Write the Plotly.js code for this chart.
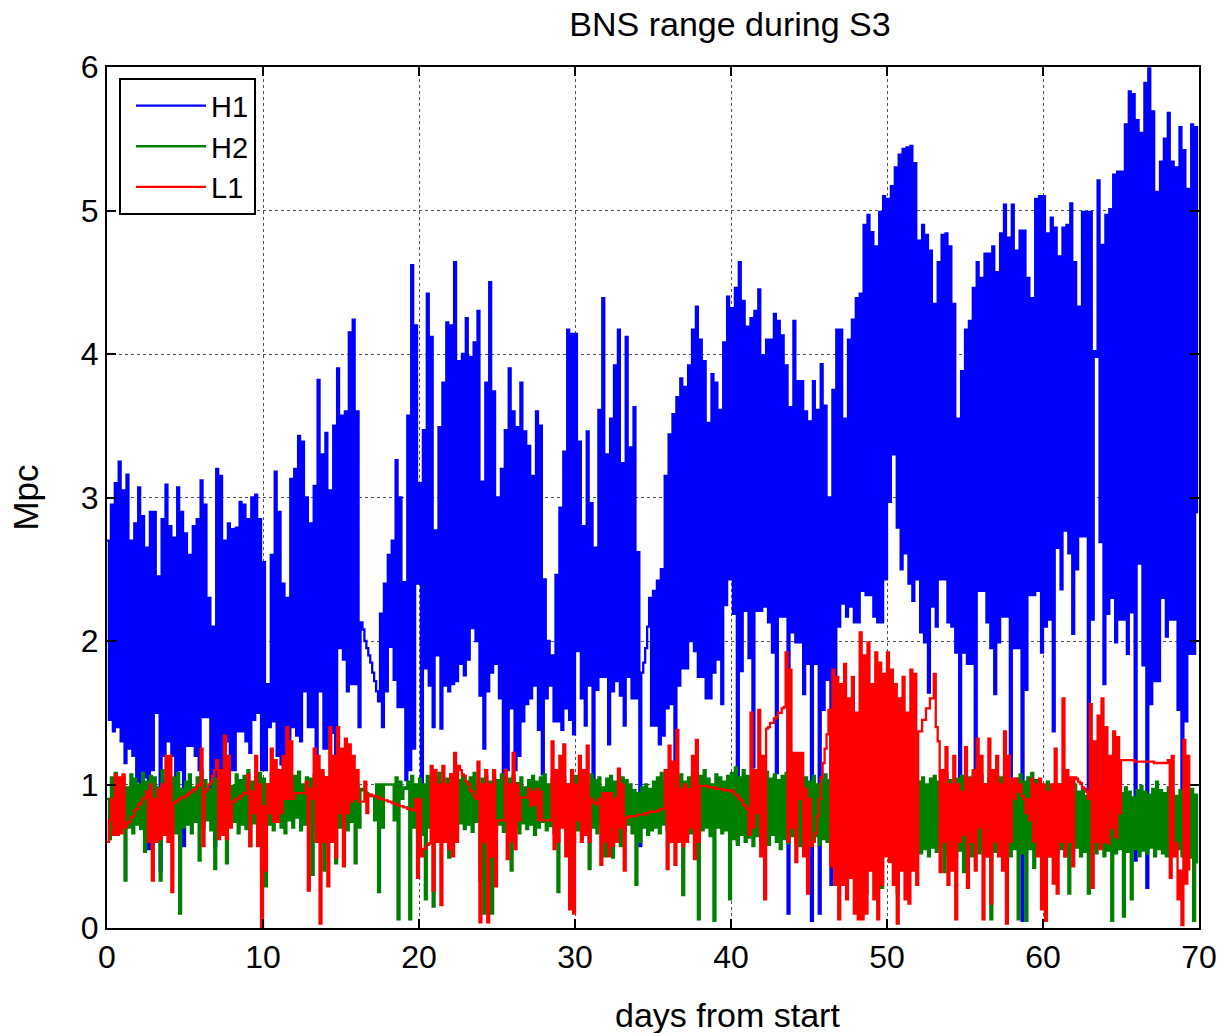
<!DOCTYPE html>
<html><head><meta charset="utf-8">
<script src="https://cdn.plot.ly/plotly-3.0.1.min.js"></script>
<style>html,body{margin:0;padding:0;background:#fff}#chart{width:1223px;height:1033px}</style>
</head><body><div id="chart"></div>
<script>
// Samples every 0.25 day: an upper value at the sample, a lower value half a step later
const SAMPLE_STEP_DAYS = 0.25;

const H1_hi = [
2.7,2.95,3.1,3.25,3.05,3.16,2.7,2.82,3.07,2.87,
2.65,2.9,2.9,2.45,2.85,3.09,2.8,2.72,3.07,2.9,
2.75,2.6,2.8,2.85,3.12,2.95,2.3,2.1,3.2,3.15,
2.7,2.82,2.78,2.79,2.97,2.95,2.85,3.0,3.02,2.85,
2.55,1.7,2.6,3.18,2.9,2.4,2.3,3.13,3.2,3.43,
3.39,3.0,2.82,3.08,3.82,3.3,3.45,3.05,3.5,3.9,
3.57,3.6,4.15,4.24,3.6,2.13,2.0,1.9,1.78,1.65,
2.19,2.4,2.6,2.7,3.26,3.0,2.41,3.57,4.62,4.2,
3.1,3.47,4.42,4.12,2.77,3.49,3.8,4.22,4.2,4.64,
3.95,4.0,4.25,3.98,4.08,4.3,3.11,3.8,4.5,3.74,
3.0,3.2,3.47,3.9,3.6,3.49,3.8,3.46,3.36,3.15,
3.6,3.5,2.43,2.0,1.9,2.46,2.93,3.32,4.17,4.14,
4.14,3.39,2.8,3.46,2.96,2.65,3.61,4.39,3.3,3.55,
3.92,4.17,3.24,4.12,3.35,3.63,2.62,1.78,1.95,2.3,
2.35,2.42,2.5,3.15,3.44,3.58,3.7,3.83,3.77,3.92,
4.17,4.33,4.1,3.95,3.52,3.86,3.8,3.61,4.08,4.4,
4.32,4.46,4.64,4.37,4.19,4.25,4.3,4.45,3.99,4.1,
4.1,4.28,4.23,4.13,3.92,3.63,4.23,3.81,3.81,3.6,
3.53,3.81,3.61,3.93,3.64,3.0,3.75,4.17,4.17,3.55,
4.1,4.24,4.39,4.42,4.9,4.97,4.85,4.75,4.99,5.1,
5.08,5.17,5.3,5.39,5.43,5.44,5.45,5.33,4.79,4.9,
4.83,4.72,4.35,4.64,4.83,4.84,4.75,4.35,3.55,3.88,
4.17,4.23,4.46,4.64,4.53,4.7,4.7,4.75,4.57,4.84,
5.04,4.81,5.04,4.72,4.86,4.86,4.53,4.39,5.08,5.1,
5.1,4.84,4.95,4.88,4.68,4.88,4.9,5.05,4.64,4.33,
4.99,4.99,4.99,4.02,5.21,4.76,4.97,5.01,5.25,5.27,
5.27,5.6,5.83,5.81,5.63,5.54,5.89,5.99,5.69,5.13,
5.34,5.5,5.68,5.34,5.3,5.58,5.42,5.15,5.6,5.58
];
const H1_lo = [
1.45,1.37,1.4,1.3,1.15,1.25,1.2,1.02,1.0,1.05,
0.55,1.1,1.5,0.4,1.2,1.3,1.2,0.95,1.1,0.57,
1.27,1.27,1.2,1.1,1.47,1.47,0.9,0.57,1.07,1.07,
1.3,1.1,1.1,1.37,1.37,1.3,1.22,1.45,1.5,1.1,
1.1,1.4,1.44,1.2,1.14,1.2,1.25,1.4,1.34,1.3,
1.65,1.4,1.4,1.14,1.65,1.25,1.25,1.36,1.17,1.95,
1.87,1.65,1.7,1.7,1.4,2.08,1.95,1.85,1.72,1.58,
1.4,1.65,1.96,1.73,1.54,1.54,1.03,1.1,1.25,2.4,
0.94,1.81,1.69,1.4,1.9,1.39,1.69,1.65,1.7,1.72,
1.84,1.76,1.87,2.09,2.0,1.62,1.25,1.65,1.78,1.84,
1.6,0.96,1.1,1.53,1.1,1.2,1.44,1.56,1.6,1.69,
1.38,1.07,1.6,1.69,1.44,1.44,1.38,1.53,1.45,1.35,
1.93,1.6,1.41,1.69,0.96,1.66,1.75,1.75,1.28,1.65,
1.72,1.62,1.41,1.75,1.6,1.6,0.57,1.85,2.1,1.41,
1.41,1.28,1.34,1.53,1.56,0.85,1.69,1.81,1.81,2.0,
1.93,1.75,1.75,1.6,1.6,1.78,1.87,1.56,2.25,2.43,
2.19,0.6,1.79,2.21,1.88,1.12,2.21,2.21,2.24,2.13,
1.92,1.08,2.17,2.17,0.1,2.06,1.99,1.99,1.63,1.84,
0.05,1.84,0.1,1.52,1.73,0.3,0.57,2.1,2.26,2.17,
2.24,2.13,2.13,2.35,2.32,2.32,2.17,2.13,2.13,2.43,
2.97,3.3,2.79,2.5,2.61,2.4,2.28,2.43,2.06,1.99,
1.64,2.24,2.1,2.43,2.43,2.13,2.1,1.92,1.04,1.92,
1.84,1.84,1.0,2.35,2.35,2.13,1.95,1.63,1.99,2.17,
2.17,1.0,1.95,1.95,0.05,1.66,2.32,2.32,2.35,1.92,
2.1,2.15,1.37,2.65,2.36,2.77,2.61,2.05,2.5,2.73,
2.73,0.55,2.15,3.98,2.69,1.7,2.19,2.3,1.99,2.15,
2.15,1.91,2.2,0.47,2.54,1.83,0.28,1.56,1.72,1.72,
2.3,2.03,2.15,2.15,1.52,0.6,1.44,1.91,1.91,2.89
];

const H2_hi = [
0.9,1.05,1.08,1.02,1.06,0.98,1.07,1.04,1.0,1.08,1.02,1.06,1.05,0.98,1.1,1.04,1.0,1.05,1.08,0.97,
1.02,1.07,0.98,1.05,1.1,1.03,0.97,1.06,1.04,1.08,1.0,1.05,0.99,1.07,1.03,1.06,1.1,1.02,1.05,1.08,
1.04,1.0,1.07,1.03,1.08,0.98,1.05,1.02,1.06,1.09,1.0,1.05,1.04,1.07,1.02,1.08,1.05,1.0,1.06,1.03,
1.07,1.02,1.05,1.08,1.0,0.97,0.95,0.93,0.92,1.0,1.0,1.0,1.0,1.0,1.05,1.02,0.98,1.02,1.06,1.0,
1.04,1.0,1.06,1.02,1.05,1.08,1.01,1.04,1.07,1.0,1.03,1.06,1.02,1.05,1.08,1.0,1.04,1.06,1.02,1.05,
1.03,1.07,1.0,1.04,1.06,1.01,1.05,0.98,1.03,1.06,1.02,1.05,1.07,1.0,1.04,1.06,1.02,1.05,1.0,1.03,
1.06,1.02,1.05,1.0,1.07,1.03,1.05,0.98,1.04,1.06,1.02,1.0,1.05,1.03,1.0,0.96,0.94,0.98,1.0,0.97,
1.02,1.05,1.08,1.03,1.06,1.1,1.04,1.07,1.02,1.05,1.08,1.03,1.06,1.1,1.04,1.0,1.07,1.05,1.02,1.06,
1.08,1.12,1.05,1.1,1.06,1.04,1.08,1.02,1.06,1.09,1.04,1.07,1.03,1.06,1.08,1.02,1.05,1.07,1.03,1.05,
1.02,1.06,1.0,1.04,1.07,1.03,1.05,1.08,1.02,1.06,1.0,1.04,1.07,1.02,1.05,1.0,1.03,1.06,1.0,1.04,
1.02,1.06,1.08,1.03,1.05,1.1,1.04,1.07,1.02,1.05,1.0,1.04,1.06,1.02,1.05,1.08,1.03,1.0,1.04,1.06,
1.02,1.05,1.08,1.03,1.06,1.0,1.04,1.07,1.02,1.05,1.03,1.06,1.0,1.04,1.07,1.02,1.05,1.08,1.03,1.0,
0.98,1.02,0.95,0.99,1.0,0.96,0.93,0.98,1.0,0.95,0.97,0.92,0.96,0.99,0.94,0.97,1.0,0.95,0.92,0.97,
0.94,0.98,0.95,0.91,0.96,0.99,0.95,0.93,0.97,1.02,0.96,0.94,0.98,0.95,0.92,0.96,0.99,0.94,0.97,0.93
];
const H2_lo = [
0.62,0.72,0.68,0.74,0.33,0.7,0.66,0.72,0.69,0.53,0.75,0.65,0.7,0.33,0.72,0.68,0.74,0.66,0.1,0.7,
0.72,0.66,0.74,0.47,0.7,0.75,0.68,0.41,0.73,0.67,0.45,0.71,0.74,0.66,0.72,0.69,0.57,0.73,0.68,0.4,
0.29,0.72,0.68,0.74,0.7,0.66,0.75,0.7,0.77,0.68,0.72,0.74,0.37,0.7,0.72,0.4,0.68,0.74,0.45,0.7,
0.72,0.68,0.74,0.45,0.7,0.96,0.94,0.92,0.75,0.25,0.7,1.0,1.0,0.75,0.06,0.9,0.97,0.06,0.7,0.65,
0.65,0.2,0.7,0.15,0.72,0.68,0.74,0.49,0.7,0.66,0.73,0.69,0.72,0.67,0.74,0.33,0.1,0.7,0.1,0.68,
0.72,0.67,0.74,0.4,0.7,0.66,0.73,0.69,0.72,0.65,0.7,0.74,0.68,0.71,0.66,0.25,0.72,0.68,0.7,0.6,
0.68,0.72,0.65,0.41,0.7,0.66,0.72,0.5,0.69,0.49,0.7,0.57,0.68,0.72,0.66,0.3,0.6,0.7,0.65,0.68,
0.7,0.66,0.72,0.68,0.65,0.7,0.67,0.23,0.7,0.66,0.72,0.06,0.68,0.7,0.64,0.05,0.7,0.66,0.68,0.2,
0.62,0.58,0.65,0.6,0.63,0.57,0.64,0.6,0.62,0.58,0.65,0.6,0.55,0.62,0.59,0.64,0.6,0.57,0.55,0.62,
0.6,0.64,0.58,0.62,0.6,0.56,0.63,0.59,0.61,0.57,0.62,0.58,0.6,0.55,0.24,0.6,0.57,0.62,0.28,0.58,
0.55,0.58,0.24,0.52,0.56,0.5,0.54,0.58,0.52,0.55,0.5,0.56,0.53,0.57,0.39,0.52,0.55,0.5,0.54,0.39,
0.54,0.5,0.56,0.52,0.55,0.5,0.06,0.53,0.56,0.51,0.54,0.5,0.55,0.06,0.52,0.05,0.55,0.42,0.52,0.56,
0.55,0.5,0.57,0.52,0.55,0.5,0.24,0.54,0.56,0.5,0.53,0.24,0.55,0.52,0.56,0.5,0.54,0.05,0.52,0.55,
0.08,0.53,0.2,0.55,0.5,0.54,0.52,0.56,0.5,0.55,0.52,0.5,0.54,0.51,0.55,0.5,0.53,0.49,0.05,0.45
];

const L1_hi = [
0.6,0.9,1.07,1.05,1.07,0.73,0.77,0.82,0.86,0.9,0.95,1.0,0.9,0.97,1.0,1.2,1.2,0.87,0.89,0.91,
0.92,0.94,0.96,0.99,1.25,0.95,1.0,1.06,1.17,1.1,1.34,1.2,0.88,0.9,0.92,0.94,1.07,0.95,1.2,1.0,
0.85,1.0,1.25,1.17,1.1,1.2,1.4,1.3,0.94,0.94,0.94,1.02,0.97,1.25,1.2,1.1,1.05,1.4,1.2,1.4,
1.25,1.32,1.28,1.2,1.1,0.88,1.02,0.93,0.92,0.91,0.9,0.89,0.88,0.87,0.86,0.85,0.84,0.83,0.82,0.9,
0.9,0.55,0.58,1.13,1.1,1.0,1.13,1.0,1.07,1.22,1.13,1.07,1.02,0.96,0.92,1.16,1.0,1.1,1.0,1.1,
0.75,0.75,1.1,1.0,1.22,1.0,0.91,0.91,0.97,0.95,0.97,0.95,0.75,0.75,1.3,1.1,1.2,1.28,1.0,1.1,
1.0,1.2,1.1,1.27,0.9,0.87,0.9,0.94,0.94,0.94,0.9,1.11,1.0,0.77,0.78,0.78,0.79,0.79,0.8,0.81,
0.81,0.82,0.83,1.1,1.27,1.16,1.38,0.97,1.0,0.97,1.2,1.31,0.99,0.99,0.98,0.98,0.97,0.97,0.96,0.96,
0.95,0.93,0.9,0.86,0.83,1.5,1.1,1.52,1.2,1.39,1.43,1.46,1.5,1.53,1.92,1.8,1.22,1.22,1.22,0.97,
0.9,0.6,0.78,1.05,1.25,1.52,1.8,1.75,1.7,1.84,1.6,1.75,1.5,2.06,1.9,1.99,1.7,1.92,1.85,1.77,
1.92,1.8,1.7,1.6,1.75,1.5,1.8,1.77,1.37,1.45,1.53,1.6,1.77,1.3,1.1,1.26,1.0,1.2,1.0,0.95,
1.26,1.04,1.1,1.32,1.2,1.0,1.32,1.1,1.2,1.0,1.37,1.2,1.04,1.04,1.0,0.9,0.9,1.04,1.0,1.04,
1.0,0.95,1.0,1.25,1.0,1.6,1.1,1.05,1.05,1.02,0.98,0.95,1.56,1.3,1.48,1.6,1.4,1.2,1.37,1.33,
1.17,1.17,1.17,1.17,1.16,1.16,1.16,1.16,1.16,1.15,1.15,1.15,1.17,1.2,0.59,0.4,1.31,1.2
];
const L1_lo = [
0.75,0.65,0.65,0.66,0.7,0.74,0.78,0.83,0.87,0.91,0.6,0.33,0.6,0.62,0.65,0.6,0.25,0.88,0.9,0.91,
0.93,0.95,0.97,1.0,0.57,0.97,1.02,1.1,0.62,0.65,0.62,0.7,0.88,0.9,0.92,0.94,0.57,0.8,0.57,0.0,
0.4,0.8,0.74,0.74,0.8,0.9,0.9,0.9,0.94,0.94,0.94,0.26,0.9,0.6,0.03,0.6,0.29,0.6,0.49,0.8,
0.43,0.8,0.88,0.9,0.88,0.88,0.8,0.93,0.92,0.91,0.9,0.89,0.88,0.87,0.86,0.85,0.84,0.83,0.82,0.35,
0.5,0.56,0.59,0.26,0.6,0.16,0.6,0.55,0.5,0.6,1.1,1.06,1.0,0.95,0.9,0.04,0.6,0.04,0.5,0.29,
0.75,0.75,0.48,0.6,0.55,0.75,0.91,0.91,0.85,0.86,0.75,0.75,0.75,0.75,0.55,0.6,0.7,0.5,0.13,0.1,
0.75,0.6,0.65,0.6,0.88,0.86,0.44,0.6,0.5,0.57,0.6,0.7,0.4,0.77,0.78,0.78,0.79,0.79,0.8,0.81,
0.81,0.82,0.83,0.41,0.6,0.44,0.6,0.57,0.6,0.7,0.48,0.6,0.99,0.99,0.98,0.98,0.97,0.97,0.96,0.96,
0.95,0.92,0.89,0.85,0.65,0.7,0.8,0.5,0.2,1.4,1.43,1.47,1.5,1.54,0.6,0.7,0.46,0.9,0.5,0.24,
0.57,0.66,0.9,1.15,1.35,0.43,0.3,0.06,0.3,0.2,0.35,0.1,0.06,0.06,0.1,0.4,0.2,0.06,0.3,0.5,
0.46,0.3,0.03,0.4,0.2,0.17,0.4,0.3,1.37,1.45,1.53,1.6,1.4,0.39,0.6,0.3,0.4,0.06,0.6,0.65,
0.28,0.6,0.4,0.7,0.06,0.5,0.17,0.6,0.5,0.4,0.03,0.6,0.9,0.95,0.92,0.8,0.75,0.6,0.5,0.13,
0.05,0.5,0.31,0.24,0.6,0.5,0.6,0.43,1.04,1.01,0.97,0.9,0.28,0.6,0.55,0.6,0.59,0.7,0.63,0.8,
1.17,1.17,1.17,1.16,1.16,1.16,1.16,1.16,1.15,1.15,1.15,1.15,0.35,0.5,0.2,0.02,0.31,0.4
];

const SERIES_NAMES = ['H1', 'H2', 'L1'];
const SERIES_COLORS = ['#0000ff', '#008000', '#ff0000'];
const X_TICKS = [0, 10, 20, 30, 40, 50, 60, 70];
const Y_TICKS = [0, 1, 2, 3, 4, 5, 6];

function zigzag(hi, lo) {
  const x = [], y = [];
  for (let i = 0; i < hi.length; i++) {
    x.push(i * SAMPLE_STEP_DAYS); y.push(hi[i]);
    x.push(i * SAMPLE_STEP_DAYS + SAMPLE_STEP_DAYS / 2); y.push(lo[i]);
  }
  return {x, y};
}

const pairs = [[H1_hi, H1_lo], [H2_hi, H2_lo], [L1_hi, L1_lo]];
const traces = pairs.map((p, k) => {
  const z = zigzag(p[0], p[1]);
  return {type: 'scatter', mode: 'lines', name: SERIES_NAMES[k], x: z.x, y: z.y,
    line: {color: SERIES_COLORS[k], width: 2.3, shape: 'hv', simplify: false}, hoverinfo: 'skip'};
});

const FONT = 'Liberation Sans, Arial, Helvetica, sans-serif';
const axisCommon = {
  showline: true, linecolor: '#000', linewidth: 2, mirror: 'ticks',
  ticks: 'inside', ticklen: 9, tickwidth: 2, tickcolor: '#000',
  showgrid: true, gridcolor: '#555', gridwidth: 1, griddash: 'dot',
  zeroline: false, tickfont: {family: FONT, size: 32, color: '#000'}
};

const layout = {
  width: 1223, height: 1033,
  margin: {l: 107, r: 24, t: 67, b: 105},
  paper_bgcolor: '#fff', plot_bgcolor: '#fff',
  font: {family: FONT, color: '#000'},
  showlegend: true,
  title: {text: 'BNS range during S3', font: {family: FONT, size: 34, color: '#000'},
    xref: 'paper', x: 0.5705, xanchor: 'center', yref: 'container', y: 0.977, yanchor: 'middle'},
  xaxis: Object.assign({}, axisCommon, {range: [0, 70], tickvals: X_TICKS, ticklabelstandoff: 0}),
  yaxis: Object.assign({}, axisCommon, {range: [0, 6], tickvals: Y_TICKS, ticklabelstandoff: 0,
    title: {text: 'Mpc', font: {family: FONT, size: 35, color: '#000'}, standoff: 32}}),
  legend: {x: 0.011, y: 0.987, xanchor: 'left', yanchor: 'top', bgcolor: '#fff',
    bordercolor: '#000', borderwidth: 2, font: {family: FONT, size: 29, color: '#000'},
    itemwidth: 70, indentation: 10, tracegroupgap: 0},
  annotations: [{text: 'days from start', xref: 'paper', yref: 'paper', x: 0.5678, y: -0.101,
    xanchor: 'center', yanchor: 'middle', showarrow: false, font: {family: FONT, size: 34, color: '#000'}}]
};

Plotly.newPlot('chart', traces, layout, {displayModeBar: false, staticPlot: true});
</script></body></html>
